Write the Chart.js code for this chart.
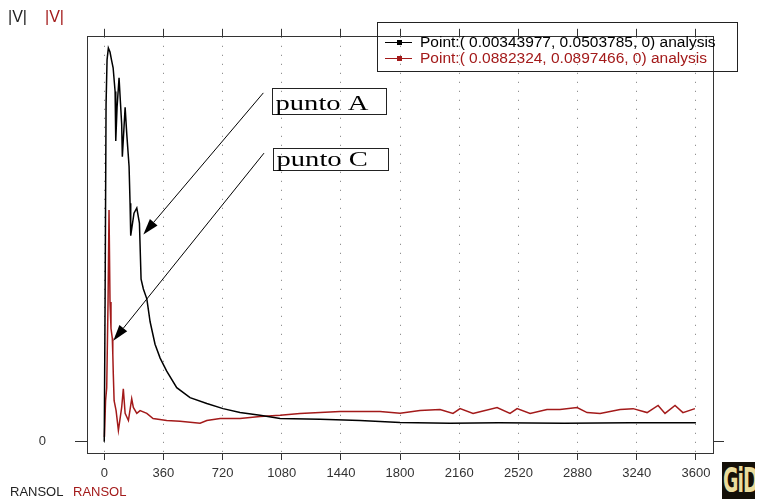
<!DOCTYPE html>
<html>
<head>
<meta charset="utf-8">
<script src="https://cdn.jsdelivr.net/npm/chart.js@4/dist/chart.umd.min.js"></script>
<style>
  body { margin: 0; background: #fff; }
  #wrap { position: relative; width: 757px; height: 499px; overflow: hidden; }
  .lbl { position: absolute; font-family: "Liberation Sans", Arial, sans-serif; white-space: nowrap; line-height: 1; }
  #gid { position: absolute; left: 722px; top: 462px; width: 33px; height: 40px; background: #141008;
         color: #eadc9c; font: bold 22px "DejaVu Sans Condensed", "DejaVu Sans", sans-serif;
         text-align: center; overflow: hidden; }
  #gid span { display: inline-block; transform: scale(0.95, 1.5); transform-origin: 50% 0; margin-top: 0; letter-spacing: -1px; }
</style>
</head>
<body>
<div id="wrap">
  <canvas id="chart" width="757" height="499"></canvas>
  <div class="lbl" style="left:8px;top:9px;font-size:16px;color:#222">|V|</div>
  <div class="lbl" style="left:45px;top:9px;font-size:16px;color:#a31a1a">|V|</div>
  <div class="lbl" style="left:10px;top:485px;font-size:13px;color:#222">RANSOL</div>
  <div class="lbl" style="left:73px;top:485px;font-size:13px;color:#a31a1a">RANSOL</div>
  <div id="gid"><span>GiD</span></div>
</div>
<script>
// values (time on x, |V| normalised so the black peak is ~1)
const xTickValues = [0, 360, 720, 1080, 1440, 1800, 2160, 2520, 2880, 3240, 3600];

const blackT = [0, 5, 11, 17, 25, 35, 44, 54, 66, 70, 78, 90, 106, 110, 127, 137, 151, 157, 161, 181, 198, 214, 224,
  238, 259, 279, 309, 340, 380, 441, 522, 624, 723, 826, 948, 1070, 1313, 1556, 1800, 2104, 2400, 2800, 3200, 3600];
const blackV = [0, 0.354, 0.854, 0.967, 0.997, 0.987, 0.967, 0.947, 0.887, 0.762, 0.847, 0.922, 0.804, 0.722, 0.847,
  0.779, 0.697, 0.604, 0.522, 0.579, 0.592, 0.554, 0.412, 0.387, 0.362, 0.304, 0.247, 0.212, 0.179, 0.137, 0.112,
  0.097, 0.084, 0.074, 0.067, 0.059, 0.057, 0.054, 0.049, 0.047, 0.048, 0.047, 0.048, 0.048];

const redT = [1, 8, 15, 23, 29, 35, 41, 49, 52, 55, 60, 72, 86, 106, 116, 127, 147, 167, 177, 198, 218, 259, 297, 380,
  461, 583, 624, 705, 826, 948, 1070, 1191, 1435, 1678, 1800, 1921, 2043, 2122, 2165, 2244, 2390, 2469, 2512, 2591,
  2694, 2773, 2877, 2938, 3017, 3139, 3218, 3303, 3370, 3412, 3473, 3521, 3594];
const redV = [0.012, 0.104, 0.137, 0.354, 0.587, 0.354, 0.287, 0.262, 0.222, 0.172, 0.104, 0.079, 0.029, 0.087, 0.134,
  0.072, 0.054, 0.109, 0.087, 0.072, 0.079, 0.072, 0.059, 0.054, 0.052, 0.047, 0.054, 0.059, 0.059, 0.064, 0.067,
  0.072, 0.077, 0.077, 0.0725, 0.079, 0.082, 0.072, 0.084, 0.072, 0.087, 0.072, 0.084, 0.072, 0.082, 0.082, 0.087,
  0.074, 0.072, 0.082, 0.084, 0.074, 0.092, 0.072, 0.092, 0.074, 0.084];

const seriesLabels = ['Point:( 0.00343977, 0.0503785, 0) analysis', 'Point:( 0.0882324, 0.0897466, 0) analysis'];

const xMin = -105, xMax = 3704;
const yMin = -0.0283, yMax = 1.0255;

const frameColor = '#333';
const darkRed = '#a31a1a';
const tickFont = { family: 'Liberation Sans', size: 13 };

// text boxes with arrows, anchored in data space
const notes = [
  { text: 'punto A', box: [1021, 1715, 0.897, 0.829], from: [968, 0.8835], to: [238, 0.525] },
  { text: 'punto C', box: [1027, 1727, 0.744, 0.687], from: [972, 0.731], to: [55, 0.256] }
];

const zip = (ts, vs) => ts.map((t, i) => ({ x: t, y: vs[i] }));

const notesPlugin = {
  id: 'notes',
  afterDatasetsDraw(chart) {
    const { ctx, scales: { x, y } } = chart;
    ctx.save();
    ctx.strokeStyle = '#000';
    ctx.fillStyle = '#000';
    ctx.lineWidth = 1;
    notes.forEach(n => {
      const x1 = x.getPixelForValue(n.from[0]), y1 = y.getPixelForValue(n.from[1]);
      const x2 = x.getPixelForValue(n.to[0]), y2 = y.getPixelForValue(n.to[1]);
      const ang = Math.atan2(y2 - y1, x2 - x1);
      const len = 16, half = 5;
      const bx = x2 - len * Math.cos(ang), by = y2 - len * Math.sin(ang);
      ctx.beginPath();
      ctx.moveTo(x1, y1);
      ctx.lineTo(bx, by);
      ctx.stroke();
      ctx.beginPath();
      ctx.moveTo(x2, y2);
      ctx.lineTo(bx + half * Math.sin(ang), by - half * Math.cos(ang));
      ctx.lineTo(bx - half * Math.sin(ang), by + half * Math.cos(ang));
      ctx.closePath();
      ctx.fill();

      const l = Math.round(x.getPixelForValue(n.box[0])) + 0.5;
      const r = Math.round(x.getPixelForValue(n.box[1])) + 0.5;
      const t = Math.round(y.getPixelForValue(n.box[2])) + 0.5;
      const b = Math.round(y.getPixelForValue(n.box[3])) + 0.5;
      ctx.strokeStyle = '#222';
      ctx.strokeRect(l, t, r - l, b - t);
      ctx.save();
      ctx.translate(l + 3, b - 5);
      ctx.scale(1.3, 1);
      ctx.font = '22px "Liberation Serif", "Times New Roman", serif';
      ctx.textBaseline = 'alphabetic';
      ctx.fillText(n.text, 0, 0);
      ctx.restore();
      ctx.strokeStyle = '#000';
    });
    ctx.restore();
  }
};

const legendPlugin = {
  id: 'gidLegend',
  afterDraw(chart) {
    const ctx = chart.ctx;
    ctx.save();
    ctx.strokeStyle = '#222';
    ctx.lineWidth = 1;
    ctx.strokeRect(377.5, 22.5, 360, 49);
    ctx.font = '15.5px "Liberation Sans", Arial, sans-serif';
    ctx.textBaseline = 'middle';
    chart.data.datasets.forEach((ds, i) => {
      const cy = 41.5 + i * 16.5;
      ctx.strokeStyle = ds.borderColor;
      ctx.fillStyle = ds.borderColor;
      ctx.beginPath();
      ctx.moveTo(385, Math.round(cy) + 0.5);
      ctx.lineTo(412, Math.round(cy) + 0.5);
      ctx.stroke();
      ctx.fillRect(397, Math.round(cy) - 2, 5, 5);
      ctx.fillText(ds.label, 420, cy + 1);
    });
    ctx.restore();
  }
};

new Chart(document.getElementById('chart'), {
  type: 'line',
  data: {
    datasets: [
      { label: seriesLabels[0], data: zip(blackT, blackV), borderColor: '#000', borderWidth: 1.5, pointRadius: 0, tension: 0 },
      { label: seriesLabels[1], data: zip(redT, redV), borderColor: darkRed, borderWidth: 1.5, pointRadius: 0, tension: 0 }
    ]
  },
  options: {
    responsive: false,
    animation: false,
    devicePixelRatio: 1,
    layout: { padding: 0 },
    plugins: { legend: { display: false }, tooltip: { enabled: false } },
    scales: {
      x: {
        type: 'linear', position: 'bottom', min: xMin, max: xMax,
        afterBuildTicks: s => { s.ticks = xTickValues.map(v => ({ value: v })); },
        ticks: { callback: v => String(v), font: tickFont, color: '#333', padding: 6, maxRotation: 0, autoSkip: false },
        grid: { color: '#777', lineWidth: 1, drawTicks: true, tickLength: 7, tickColor: frameColor, tickBorderDash: [] },
        border: { color: frameColor, width: 1, dash: [1, 8] },
        afterFit: s => { s.height = 46; }
      },
      xTop: {
        type: 'linear', position: 'top', min: xMin, max: xMax,
        afterBuildTicks: s => { s.ticks = xTickValues.map(v => ({ value: v })); },
        ticks: { display: false },
        grid: { drawOnChartArea: false, drawTicks: true, tickLength: 8, tickColor: frameColor },
        border: { color: frameColor, width: 1 },
        afterFit: s => { s.height = 31; }
      },
      y: {
        type: 'linear', position: 'left', min: yMin, max: yMax,
        afterBuildTicks: s => { s.ticks = [{ value: 0 }]; },
        ticks: { callback: () => '0', font: tickFont, color: '#333', padding: 29 },
        grid: { drawOnChartArea: false, drawTicks: true, tickLength: 12, tickColor: frameColor },
        border: { color: frameColor, width: 1 },
        afterFit: s => { s.width = 87; }
      },
      yRight: {
        type: 'linear', position: 'right', min: yMin, max: yMax,
        afterBuildTicks: s => { s.ticks = [{ value: 0 }]; },
        ticks: { display: false },
        grid: { drawOnChartArea: false, drawTicks: true, tickLength: 11, tickColor: frameColor },
        border: { color: frameColor, width: 1 },
        afterFit: s => { s.width = 44; }
      }
    }
  },
  plugins: [notesPlugin, legendPlugin]
});
</script>
</body>
</html>
